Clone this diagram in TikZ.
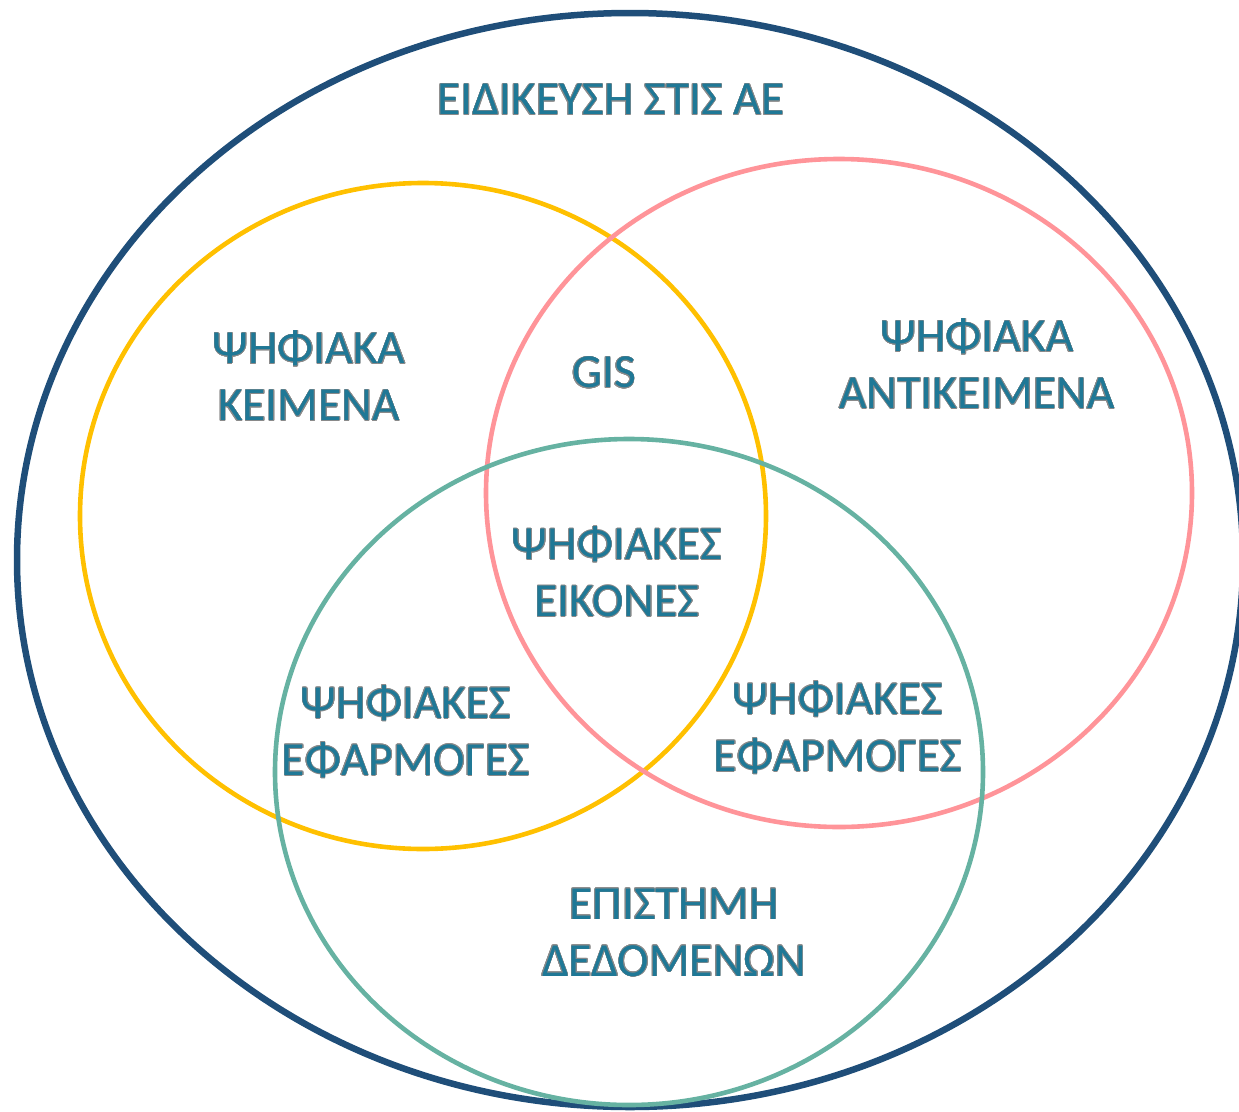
\documentclass[tikz,border=0pt]{standalone}
\usepackage{fontspec}
\setmainfont{Carlito}
\usepackage{contour}
\contourlength{0.55pt}
\definecolor{navy}{HTML}{1F4E79}
\definecolor{cyellow}{HTML}{FFC000}
\definecolor{cpink}{HTML}{FF9499}
\definecolor{cteal}{HTML}{66B2A2}
\definecolor{ctext}{HTML}{1F7896}
\definecolor{cedge}{HTML}{8A8A8A}
\newcommand{\olt}[1]{\contour{cedge}{\textcolor{ctext}{#1}}}
\tikzset{
  lbl/.style={align=center, font=\fontsize{47.5}{57}\selectfont, inner sep=0pt},
  outer/.style={draw=navy, line width=6.5pt},
  ring/.style={line width=4.6pt}
}
\begin{document}
\begin{tikzpicture}[x=1pt,y=-1pt]
\useasboundingbox (0,0) rectangle (1239,1111);
\draw[outer] (630,560) ellipse [x radius=613, y radius=547];
\draw[ring, draw=cyellow] (423,516) ellipse [x radius=343, y radius=333];
\draw[ring, draw=cpink] (839,493) ellipse [x radius=353, y radius=334];
\draw[ring, draw=cteal] (629,772) ellipse [x radius=354, y radius=333];
\node[lbl] (title) at (611,100) {\olt{ΕΙΔΙΚΕΥΣΗ ΣΤΙΣ ΑΕ}};
\node[lbl] (texts) at (309,376) {\olt{ΨΗΦΙΑΚΑ}\\\olt{ΚΕΙΜΕΝΑ}};
\node[lbl] (gis) at (604,373) {\olt{GIS}};
\node[lbl] (objects) at (977,364) {\olt{ΨΗΦΙΑΚΑ}\\\olt{ΑΝΤΙΚΕΙΜΕΝΑ}};
\node[lbl] (images) at (617,572) {\olt{ΨΗΦΙΑΚΕΣ}\\\olt{ΕΙΚΟΝΕΣ}};
\node[lbl] (appsl) at (406,732) {\olt{ΨΗΦΙΑΚΕΣ}\\\olt{ΕΦΑΡΜΟΓΕΣ}};
\node[lbl] (appsr) at (838,728) {\olt{ΨΗΦΙΑΚΕΣ}\\\olt{ΕΦΑΡΜΟΓΕΣ}};
\node[lbl] (data) at (674,933) {\olt{ΕΠΙΣΤΗΜΗ}\\\olt{ΔΕΔΟΜΕΝΩΝ}};
\end{tikzpicture}
\end{document}
